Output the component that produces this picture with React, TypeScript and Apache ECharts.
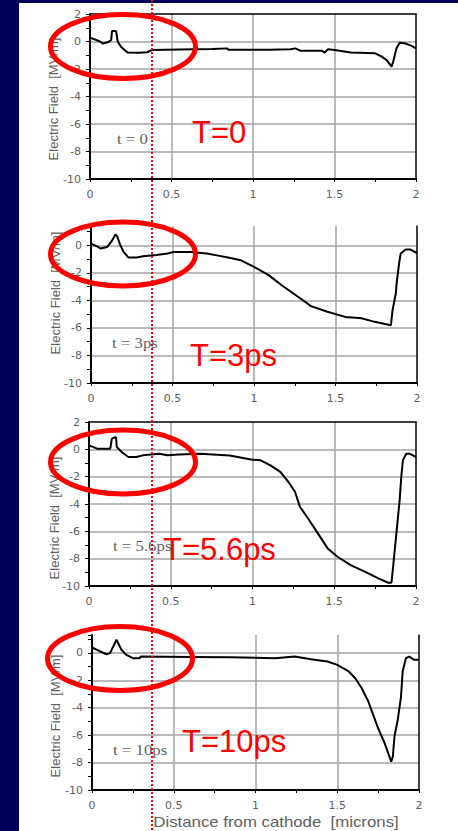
import React, { useEffect, useRef } from 'react';
import * as echarts from 'echarts';

// ---- data ----
const xTickLabels = ['0', '0.5', '1', '1.5', '2'];
const yTickLabels = ['2', '0', '-2', '-4', '-6', '-8', '-10'];
const timeLabels = ['t = 0', 't = 3ps', 't = 5.6ps', 't = 10ps'];
const redLabels = ['T=0', 'T=3ps', 'T=5.6ps', 'T=10ps'];
const yAxisTitle = 'Electric Field  [MV/m]';
const xAxisTitle = 'Distance from cathode  [microns]';

const fieldT0: [number, number][] = [
  [0, 0.28], [0.03, 0.15], [0.06, 0.0], [0.08, -0.15], [0.11, -0.05], [0.13, 0.1], [0.135, 0.76],
  [0.16, 0.76], [0.17, 0.0], [0.19, -0.38], [0.23, -0.8], [0.3, -0.82], [0.35, -0.78], [0.38, -0.62],
  [0.55, -0.58], [0.75, -0.55], [0.84, -0.5], [0.85, -0.6], [1.1, -0.6], [1.23, -0.57], [1.26, -0.5],
  [1.29, -0.67], [1.42, -0.67], [1.44, -0.8], [1.46, -0.57], [1.5, -0.62], [1.57, -0.74], [1.6, -0.8],
  [1.75, -0.86], [1.79, -1.1], [1.82, -1.35], [1.85, -1.83], [1.86, -1.47], [1.88, -0.5], [1.9, -0.09],
  [1.93, -0.13], [1.97, -0.3], [2.0, -0.5],
];
const fieldT3: [number, number][] = [
  [0, 0.12], [0.04, -0.1], [0.06, -0.24], [0.1, -0.12], [0.13, 0.36], [0.15, 0.78], [0.16, 0.67],
  [0.18, 0.0], [0.2, -0.48], [0.23, -0.89], [0.28, -0.89], [0.32, -0.8], [0.4, -0.7], [0.47, -0.6],
  [0.51, -0.48], [0.61, -0.48], [0.71, -0.6], [0.78, -0.75], [0.84, -0.89], [0.92, -1.09], [1.0, -1.57],
  [1.09, -2.17], [1.17, -2.9], [1.27, -3.74], [1.35, -4.42], [1.45, -4.83], [1.56, -5.2], [1.66, -5.3],
  [1.74, -5.56], [1.84, -5.8], [1.85, -4.71], [1.87, -3.5], [1.875, -2.78], [1.89, -1.33], [1.9, -0.6],
  [1.93, -0.31], [1.96, -0.31], [2.0, -0.56],
];
const fieldT56: [number, number][] = [
  [0, 0.29], [0.05, 0.05], [0.13, 0.05], [0.14, 0.78], [0.165, 0.9], [0.17, 0.17], [0.2, -0.2],
  [0.24, -0.56], [0.29, -0.56], [0.33, -0.44], [0.43, -0.32], [0.48, -0.44], [0.55, -0.38], [0.68, -0.32],
  [0.86, -0.45], [0.91, -0.56], [0.99, -0.75], [1.05, -0.8], [1.11, -1.17], [1.17, -1.65], [1.22, -2.39],
  [1.26, -3.1], [1.29, -4.2], [1.34, -5.06], [1.4, -6.15], [1.46, -7.25], [1.52, -7.86], [1.6, -8.47],
  [1.69, -8.96], [1.77, -9.44], [1.83, -9.76], [1.85, -9.76], [1.86, -8.6], [1.88, -6.15], [1.9, -3.72],
  [1.91, -2.02], [1.92, -0.8], [1.94, -0.32], [1.96, -0.32], [2.0, -0.56],
];
const fieldT10: [number, number][] = [
  [0, 0.39], [0.05, 0.1], [0.09, -0.1], [0.11, -0.02], [0.13, 0.46], [0.15, 0.95], [0.16, 0.7],
  [0.18, 0.22], [0.19, 0.1], [0.21, -0.15], [0.25, -0.39], [0.29, -0.39], [0.3, -0.27], [0.6, -0.3],
  [0.84, -0.33], [1.12, -0.39], [1.24, -0.27], [1.34, -0.46], [1.44, -0.63], [1.5, -0.88], [1.57, -1.36],
  [1.61, -1.85], [1.65, -2.58], [1.69, -3.55], [1.72, -4.53], [1.75, -5.5], [1.79, -6.59], [1.83, -7.93],
  [1.84, -7.57], [1.85, -6.1], [1.87, -4.89], [1.89, -3.19], [1.9, -1.36], [1.92, -0.39], [1.94, -0.27],
  [1.97, -0.51], [2.0, -0.51],
];
const yMaxes = [2, 1.4, 2, 1.3];

// ---- layout ----
const layouts = [
  { left: 90, top: 14, width: 326, height: 165, topBorder: true, ell: [123, 46.5], tl: [117, 139], rl: [192, 132], yt: [53, 99] },
  { left: 91, top: 226, width: 326, height: 157, topBorder: false, ell: [123, 254], tl: [112, 343], rl: [190, 355], yt: [55, 293] },
  { left: 89, top: 422, width: 327, height: 164, topBorder: true, ell: [123, 462], tl: [113, 546], rl: [163, 549], yt: [54, 518] },
  { left: 92, top: 635, width: 327, height: 155, topBorder: false, ell: [120, 658.5], tl: [113, 750], rl: [182, 741], yt: [55, 716] },
];

const seriesData = [fieldT0, fieldT3, fieldT56, fieldT10];

const gray = '#5f5f5f';
const gridGray = '#a3a3a3';
const sans = 'Liberation Sans';

export default function App() {
  const ref = useRef<HTMLDivElement>(null);
  useEffect(() => {
    if (!ref.current) return;
    const chart = echarts.init(ref.current, undefined, { renderer: 'svg' });
    const fmt = (list: string[]) => (v: number) => {
      const s = String(Math.round(v * 100) / 100);
      return list.includes(s) ? s : '';
    };
    const xAxes: any[] = [];
    const yAxes: any[] = [];
    layouts.forEach((l, i) => {
      xAxes.push({
        type: 'value', gridIndex: i, min: 0, max: 2, interval: 0.5, position: 'bottom',
        axisLine: { show: true, onZero: false, lineStyle: { color: '#000', width: 2 } },
        axisTick: { show: true, length: 3, lineStyle: { color: '#000' } },
        minorTick: { show: true, splitNumber: 2, length: 3, lineStyle: { color: '#000' } },
        splitLine: { show: true, showMinLine: false, showMaxLine: false, lineStyle: { color: gridGray, width: 1.5 } },
        axisLabel: { color: gray, fontSize: 11, fontFamily: 'DejaVu Sans', margin: 10, formatter: fmt(xTickLabels) },
      });
      yAxes.push({
        type: 'value', gridIndex: i, min: -10, max: yMaxes[i], interval: 2,
        axisLine: { show: true, onZero: false, lineStyle: { color: '#000', width: 2 } },
        axisTick: { show: true, length: 4, lineStyle: { color: '#000' } },
        minorTick: { show: true, splitNumber: 2, length: 4, lineStyle: { color: '#000' } },
        splitLine: { show: true, showMinLine: false, showMaxLine: false, lineStyle: { color: gridGray, width: 1.5 } },
        axisLabel: { color: gray, fontSize: 11, fontFamily: 'DejaVu Sans', margin: 9, formatter: fmt(yTickLabels) },
      });
    });
    layouts.forEach((l, i) => {
      xAxes.push({
        type: 'value', gridIndex: i, min: 0, max: 2, position: 'top',
        axisLine: { show: l.topBorder, onZero: false, lineStyle: { color: '#000', width: 1.5 } },
        axisTick: { show: false }, axisLabel: { show: false }, splitLine: { show: false },
      });
      yAxes.push({
        type: 'value', gridIndex: i, min: 0, max: 1, position: 'right',
        axisLine: { show: true, onZero: false, lineStyle: { color: '#000', width: 1.5 } },
        axisTick: { show: false }, axisLabel: { show: false }, splitLine: { show: false },
      });
    });

    const graphic: any[] = [];
    layouts.forEach((l, i) => {
      graphic.push({
        type: 'text', z: 50, x: l.yt[0], y: l.yt[1], rotation: Math.PI / 2,
        style: { text: yAxisTitle, fill: gray, font: `13px "${sans}"`, textAlign: 'center', textVerticalAlign: 'middle' },
      });
      graphic.push({
        type: 'text', z: 50, x: l.tl[0], y: l.tl[1], scaleX: 1.2,
        style: { text: timeLabels[i], fill: gray, font: '14px "Liberation Serif"', textAlign: 'left', textVerticalAlign: 'middle' },
      });
      graphic.push({
        type: 'text', z: 100, x: l.rl[0], y: l.rl[1],
        style: { text: redLabels[i], fill: '#ff0000', font: `31px "${sans}"`, textAlign: 'left', textVerticalAlign: 'middle' },
      });
      graphic.push({
        type: 'ellipse', z: 100,
        shape: { cx: l.ell[0], cy: l.ell[1], rx: 72.5, ry: 32 },
        style: { fill: 'transparent', stroke: '#ff0000', lineWidth: 5 },
      });
    });
    graphic.push({
      type: 'text', z: 50, x: 276, y: 822, scaleX: 1.2, originX: 0,
      style: { text: xAxisTitle, fill: gray, font: `14px "${sans}"`, textAlign: 'center', textVerticalAlign: 'middle' },
    });
    graphic.push({
      type: 'line', z: 100,
      shape: { x1: 152, y1: 0, x2: 152, y2: 831 },
      style: { stroke: '#ff0000', lineWidth: 2, lineDash: [2, 2] },
    });

    chart.setOption({
      animation: false,
      backgroundColor: 'transparent',
      grid: layouts.map((l) => ({ left: l.left, top: l.top, width: l.width, height: l.height })),
      xAxis: xAxes,
      yAxis: yAxes,
      series: seriesData.map((d, i) => ({
        type: 'line', xAxisIndex: i, yAxisIndex: i, data: d, showSymbol: false, z: 3,
        lineStyle: { color: '#000', width: 2 },
      })),
      graphic,
    });
    return () => chart.dispose();
  }, []);

  return (
    <div style={{ position: 'fixed', left: 0, top: 0, width: 458, height: 831, background: '#000058' }}>
      <div style={{ position: 'absolute', left: 19, top: 3, width: 439, height: 828, background: '#fff' }} />
      <div ref={ref} style={{ position: 'absolute', left: 0, top: 0, width: 458, height: 831 }} />
    </div>
  );
}
